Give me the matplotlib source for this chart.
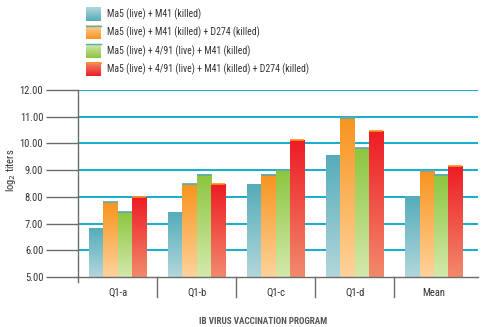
import numpy as np
import matplotlib
matplotlib.use("Agg")
import matplotlib.pyplot as plt
from matplotlib.colors import LinearSegmentedColormap

plt.rcParams['font.family'] = ['Liberation Sans Narrow', 'Roboto Condensed', 'Liberation Sans', 'DejaVu Sans']

categories = ["Q1-a", "Q1-b", "Q1-c", "Q1-d", "Mean"]
series_labels = [
    "Ma5 (live) + M41 (killed)",
    "Ma5 (live) + M41 (killed) + D274 (killed)",
    "Ma5 (live) + 4/91 (live) + M41 (killed)",
    "Ma5 (live) + 4/91 (live) + M41 (killed) + D274 (killed)",
]
ma5_m41 = [6.83, 7.43, 8.48, 9.53, 8.00]
ma5_m41_d274 = [7.80, 8.47, 8.83, 10.97, 8.98]
ma5_491_m41 = [7.43, 8.83, 9.00, 9.82, 8.83]
ma5_491_m41_d274 = [7.98, 8.47, 10.12, 10.46, 9.15]
series = [ma5_m41, ma5_m41_d274, ma5_491_m41, ma5_491_m41_d274]

# gradient (top colour, bottom colour) and thin cap colour for each series
tops = ["#55acba", "#f7941d", "#8cc63f", "#ed1c24"]
bottoms = ["#b2d7db", "#fed39c", "#d4e9ac", "#f28a6c"]
caps = [None, "#55acba", "#55acba", "#f7941d"]

text_col = "#333333"
axis_col = "#6b6b6b"
grid_col = "#00a8c9"

fig = plt.figure(figsize=(4.83, 3.27), dpi=100)
ax = fig.add_axes([78 / 483, 50 / 327, 400 / 483, 187 / 327])

ymin, ymax = 5.0, 12.0
width = 0.18
x = np.arange(len(categories))
offsets = (np.arange(4) - 1.5) * width

grad = np.linspace(1, 0, 256).reshape(-1, 1)


def gradient_fill(axis, x0, x1, y0, y1, top, bottom, z=3):
    cmap = LinearSegmentedColormap.from_list("g", [bottom, top])
    axis.imshow(grad, cmap=cmap, extent=(x0, x1, y0, y1), aspect="auto",
                origin="upper", zorder=z, interpolation="bicubic")


for i, vals in enumerate(series):
    bars = ax.bar(x + offsets[i], np.array(vals) - ymin, width, bottom=ymin,
                  color="none", edgecolor="none", zorder=3)
    for b, v in zip(bars, vals):
        x0 = b.get_x()
        x1 = x0 + b.get_width()
        gradient_fill(ax, x0, x1, ymin, v, tops[i], bottoms[i])
        if caps[i] is not None:
            ax.plot([x0, x1], [v, v], color=caps[i], lw=1.2, zorder=4,
                    solid_capstyle="butt")

ax.set_xlim(-0.5, 4.56)
ax.set_ylim(ymin, ymax)

# horizontal grid
for yv in np.arange(6, 13):
    ax.axhline(yv, color=grid_col, lw=1.3, zorder=1)

ax.set_yticks(np.arange(5, 13))
ax.set_yticklabels([f"{v:.2f}" for v in np.arange(5, 13)])
ax.tick_params(axis="y", direction="out", length=23, width=1.0, color=axis_col,
               labelsize=7.6, labelcolor=text_col, pad=2)
ax.set_xticks(x)
ax.set_xticklabels(categories)
ax.tick_params(axis="x", length=0, labelsize=7.6, labelcolor=text_col, pad=8)

for s in ["top", "right"]:
    ax.spines[s].set_visible(False)
ax.spines["left"].set_color(axis_col)
ax.spines["bottom"].set_color(axis_col)
ax.spines["left"].set_linewidth(1.0)
ax.spines["bottom"].set_linewidth(1.0)
ax.spines["bottom"].set_zorder(5)

# category separators under the axis
for sep in np.arange(0.5, 4.0, 1.0):
    ax.plot([sep, sep], [ymin, ymin - 0.75], color=axis_col, lw=1.0,
            clip_on=False, zorder=5)
ax.plot([-0.5, -0.5], [ymin, ymin - 0.18], color=axis_col, lw=1.0,
        clip_on=False, zorder=5)

ax.set_ylabel("log$_2$ titers", fontsize=7.6, color=text_col, va="center")
ax.yaxis.set_label_coords(-0.168, 0.572)

fig.text(263 / 483, 1 - 321 / 327, "IB VIRUS VACCINATION PROGRAM", fontsize=6.6,
         color="#555555", fontweight="bold", ha="center", va="center")

# legend drawn on its own axes in pixel coordinates
lax = fig.add_axes([0, 0, 1, 1])
lax.set_xlim(0, 483)
lax.set_ylim(327, 0)
lax.axis("off")
row_y = [14, 32.5, 51, 69.5]
for i, lab in enumerate(series_labels):
    cy = row_y[i]
    gradient_fill(lax, 86, 101, cy - 7, cy + 7, tops[i], bottoms[i])
    if caps[i] is not None:
        lax.plot([86, 101], [cy - 7, cy - 7], color=caps[i], lw=1.0, zorder=4)
    lax.text(107, cy, lab, fontsize=7.0, color=text_col, va="center", ha="left")
lax.set_xlim(0, 483)
lax.set_ylim(327, 0)

fig.savefig("out.png", dpi=100)
